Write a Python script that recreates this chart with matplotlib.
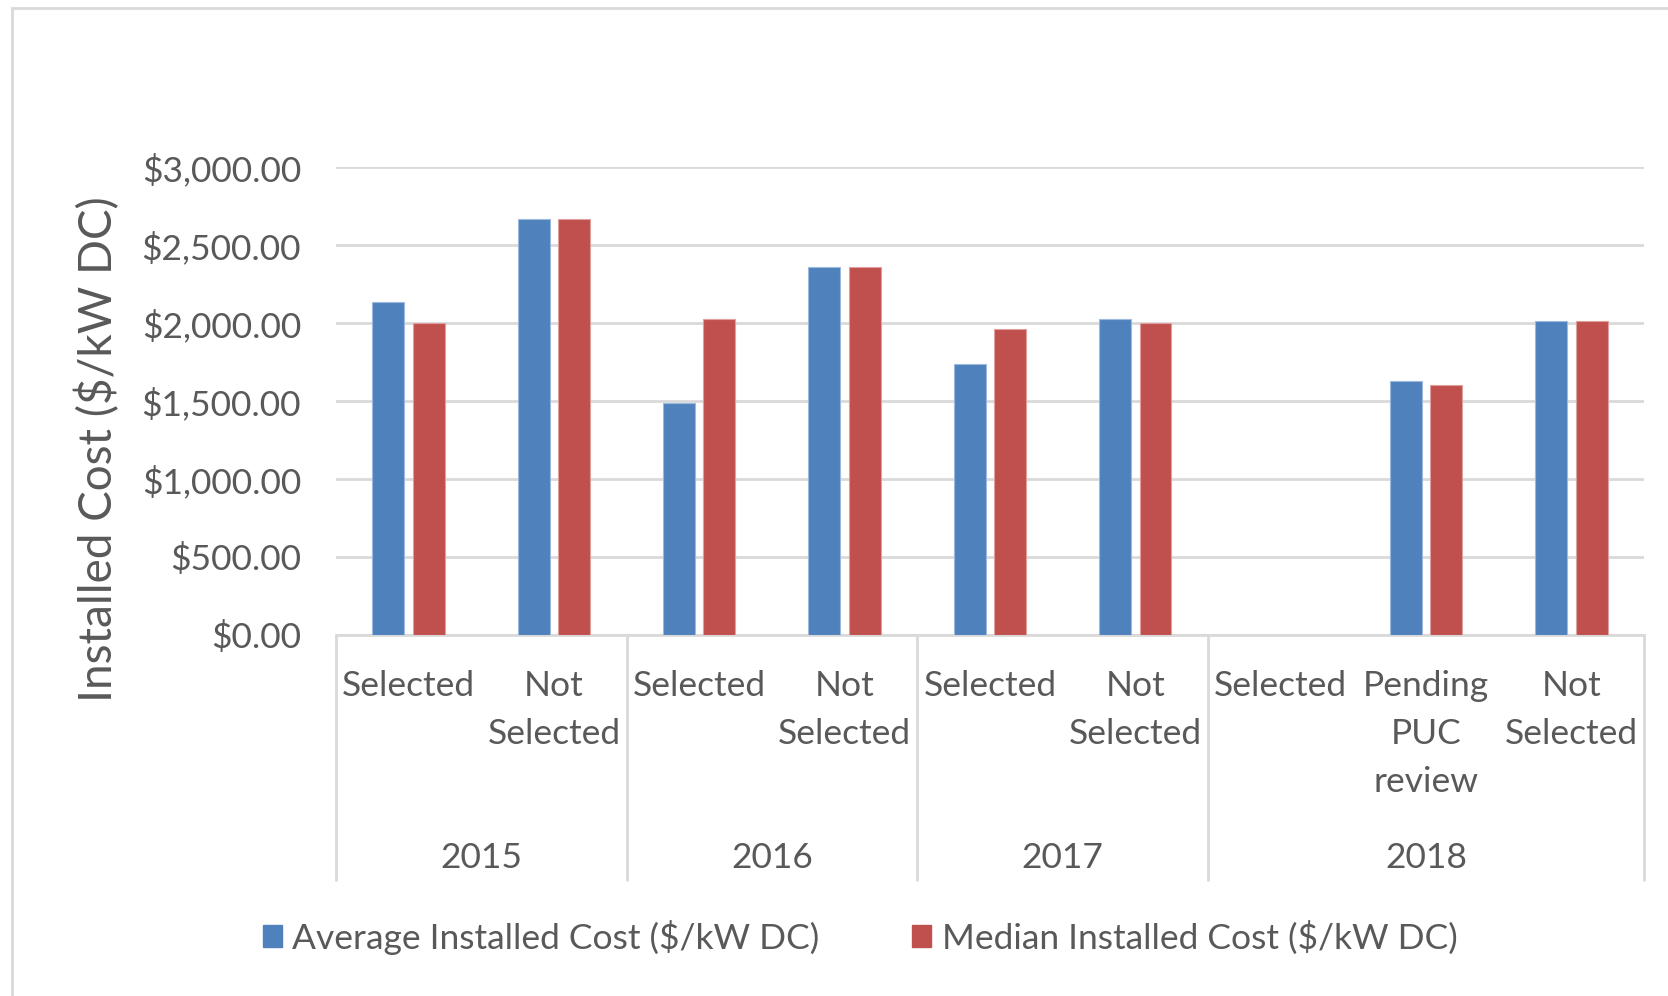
import numpy as np
import matplotlib.pyplot as plt
from matplotlib.patches import Patch, Rectangle

plt.rcParams['font.family'] = ['Lato', 'DejaVu Sans']

categories = ["Selected", "Not\nSelected", "Selected", "Not\nSelected",
              "Selected", "Not\nSelected", "Selected", "Pending\nPUC\nreview",
              "Not\nSelected"]
years = ["2015", "2016", "2017", "2018"]
group_sizes = [2, 2, 2, 3]
avg_cost = [2135, 2665, 1485, 2360, 1735, 2025, np.nan, 1630, 2015]
median_cost = [2000, 2665, 2025, 2360, 1960, 2000, np.nan, 1605, 2015]
y_ticks = [0, 500, 1000, 1500, 2000, 2500, 3000]

BLUE = '#4F81BD'
RED = '#C0504D'
GRID = '#D9D9D9'
TEXT = '#595959'
FS = 25.5


def plot_costs():
    fig = plt.figure(figsize=(16.68, 9.96), dpi=100)
    ax = fig.add_axes([0.2014, 0.3625, 0.7842, 0.4698])

    x = np.arange(len(categories))
    w = 0.22
    ax.bar(x - 0.139, avg_cost, w, color=BLUE, edgecolor='#9DB9DD', linewidth=0.8,
           label='Average Installed Cost ($/kW DC)', zorder=3)
    ax.bar(x + 0.139, median_cost, w, color=RED, edgecolor='#E0A09E', linewidth=0.8,
           label='Median Installed Cost ($/kW DC)', zorder=3)

    ax.set_xlim(-0.5, len(categories) - 0.5)
    ax.set_ylim(0, 3000)
    ax.set_yticks(y_ticks)
    ax.set_yticklabels([f'${v:,.2f}' for v in y_ticks])
    ax.tick_params(axis='y', length=0, pad=25, labelsize=FS, labelcolor=TEXT)
    ax.set_xticks([])
    ax.yaxis.grid(True, color=GRID, linewidth=2)
    ax.set_axisbelow(True)
    for side in ['top', 'right', 'left']:
        ax.spines[side].set_visible(False)
    ax.spines['bottom'].set_color(GRID)
    ax.spines['bottom'].set_linewidth(2)

    # two-level category axis: statuses on top, years underneath
    xt = ax.get_xaxis_transform()
    first_line = -0.1303
    line_step = 0.1026
    for i, label in enumerate(categories):
        for k, part in enumerate(label.split('\n')):
            ax.text(i, first_line - k * line_step, part, transform=xt,
                    ha='center', va='baseline', fontsize=FS, color=TEXT)

    edges = np.concatenate([[0], np.cumsum(group_sizes)]) - 0.5
    ax.vlines(edges, -0.5256, 0, transform=xt, colors=GRID, linewidth=2,
              clip_on=False)
    for yr, lo, hi in zip(years, edges[:-1], edges[1:]):
        ax.text((lo + hi) / 2, -0.498, yr, transform=xt, ha='center',
                va='baseline', fontsize=FS, color=TEXT)

    fig.text(98 / 1668, 1 - 449 / 996, 'Installed Cost ($/kW DC)', rotation=90,
             ha='center', va='center', fontsize=33, color=TEXT)

    handles = [Patch(color=BLUE), Patch(color=RED)]
    fig.legend(handles, ['Average Installed Cost ($/kW DC)',
                         'Median Installed Cost ($/kW DC)'],
               loc='center', bbox_to_anchor=(0.5156, 0.0592), ncol=2,
               frameon=False, fontsize=FS, labelcolor=TEXT,
               handlelength=0.54, handleheight=0.54, handletextpad=0.3,
               columnspacing=2.6)

    fig.patches.append(Rectangle((0.007, -0.1), 1.2, 1.092, transform=fig.transFigure,
                                 fill=False, edgecolor=GRID, linewidth=2))

    fig.savefig('out.png', dpi=100)


if __name__ == "__main__":
    plot_costs()
